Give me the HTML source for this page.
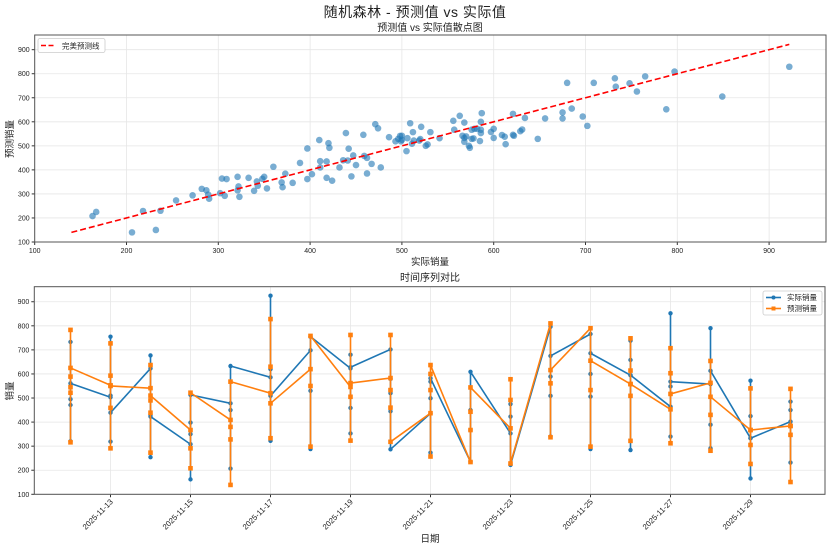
<!DOCTYPE html>
<html><head><meta charset="utf-8"><style>
body{margin:0;background:#fff}
svg text{font-family:"Liberation Sans","Noto Sans CJK SC",sans-serif;fill:#222}
</style></head><body>
<svg id="c" width="831" height="549" xmlns="http://www.w3.org/2000/svg"></svg>
<script>
// ---- scatter data ----
const scatterActual=[163,167,206,232,218,237,254,272,282,287,289,290,302,304,309,307,321,322,321,323,333,339,342,343,348,350,353,360,369,370,373,381,389,397,397,402,410,411,411,418,418,420,421,424,432,436,439,441,442,445,447,450,458,459,462,462,467,471,474,477,486,493,496,498,499,
922,849,788,797,765,756,748,732,733,709,680,685,675,675,697,702,656,648,634,631,629,621,622,621,613,612,609,600,600,597,587,586,586,586,585,582,579,578,576,574,573,576,568,568,570,566,568,563,557,556,541,531,528,526,521,520,519,512,513,511,509,506,505,500,500];
const scatterPred=[208,225,140,150,229,230,273,294,321,315,297,280,303,364,362,292,371,331,315,288,367,313,352,334,363,371,323,413,348,328,384,346,429,362,489,382,524,436,410,435,367,511,492,355,410,440,553,439,488,373,460,420,546,458,450,385,425,590,573,410,536,519,529,541,519,
829,705,652,809,789,726,760,781,746,762,762,655,639,614,622,583,614,529,616,568,561,633,542,546,507,538,545,571,533,558,636,600,567,553,520,571,571,531,529,492,500,567,517,533,539,542,597,625,567,604,532,557,506,500,579,528,522,557,522,509,594,532,478,542,525];
const perfectLine=[140,922];
const topXTicks=[100,200,300,400,500,600,700,800,900];
const topYTicks=[100,200,300,400,500,600,700,800,900];
// ---- time series data ----
const dates=['2025-11-12','2025-11-13','2025-11-14','2025-11-15','2025-11-16','2025-11-17','2025-11-18','2025-11-19','2025-11-20','2025-11-21','2025-11-22','2025-11-23','2025-11-24','2025-11-25','2025-11-26','2025-11-27','2025-11-28','2025-11-29','2025-11-30'];
const actualByDate=[[733,495,471,320,561],[503,755,510,319,439],[623,677,430,254,423],[308,162,398,350,513],[478,207,450,633],[586,925,620,322,509],[698,530,288,755],[623,680,353,459,628],[702,580,445,520,287],[436,499,273,568,582],[235,450,367,609],[353,475,423,222],[796,589,509,340,675],[766,288,506,600,686],[595,738,658,284,595],[464,852,340,548,568],[558,790,291,389,613],[333,572,425,166,333],[402,485,450,232]];
const predByDate=[[783,589,545,522,316,625],[553,727,593,459,291,550],[541,637,490,273,439,510],[367,208,291,522],[409,139,328,380,568],[520,828,630,333,478],[620,298,550,758],[546,762,323,505,562],[583,762,533,460,318],[437,600,533,257,637],[234,443,367,544],[374,578,492,228],[810,561,337,616],[790,298,533,655],[558,748,614,322,509,558],[453,707,603,312,517],[563,654,281,430,505],[367,540,226,305,367],[384,538,151,347,384]];
const botYTicks=[100,200,300,400,500,600,700,800,900];
const dateTickIdx=[1,3,5,7,9,11,13,15,17];

const NS='http://www.w3.org/2000/svg';
const svg=document.getElementById('c');
function mk(tag,attrs,parent){const e=document.createElementNS(NS,tag);for(const k in attrs)e.setAttribute(k,attrs[k]);(parent||svg).appendChild(e);return e;}
function txt(s,attrs,parent){const e=mk('text',attrs,parent);e.textContent=s;return e;}

const T={l:34.7,r:826,t:35,b:242};
const tx=v=>T.l+(v-100)*0.918, ty=v=>T.b-(v-100)*0.2404;
const B={l:34.3,r:825,t:286.7,b:494.3};
const bx=i=>70.5+i*40, by=v=>B.b-(v-100)*0.2407;

let e=txt('随机森林 - 预测值 vs 实际值',{x:415,y:17,'text-anchor':'middle','font-size':14,'letter-spacing':0.5});

e=txt('预测值 vs 实际值散点图',{x:430,y:31,'text-anchor':'middle','font-size':10});


const gTop=mk('g',{});

topXTicks.forEach(v=>{const x=tx(v);
 e=mk('line',{x1:x,x2:x,y1:T.t,y2:T.b,stroke:'#e6e6e6','stroke-width':0.8},gTop);
 mk('line',{x1:x,x2:x,y1:T.b,y2:T.b+3,stroke:'#333'},gTop);
 e=txt(v,{x:x,y:T.b+11,'text-anchor':'middle','font-size':7},gTop);});
topYTicks.forEach(v=>{const y=ty(v);
 e=mk('line',{x1:T.l,x2:T.r,y1:y,y2:y,stroke:'#e6e6e6','stroke-width':0.8},gTop);
 mk('line',{x1:T.l-3,x2:T.l,y1:y,y2:y,stroke:'#333'},gTop);
 e=txt(v,{x:T.l-5,y:y+2.5,'text-anchor':'end','font-size':7},gTop);});
scatterActual.forEach((a,i)=>{
 e=mk('circle',{cx:tx(a),cy:ty(scatterPred[i]),r:3.3,fill:'#1f77b4','fill-opacity':0.6},gTop);
 });
e=mk('line',{x1:tx(perfectLine[0]),y1:ty(perfectLine[0]),x2:tx(perfectLine[1]),y2:ty(perfectLine[1]),stroke:'#f00','stroke-width':1.6,'stroke-dasharray':'6,3'},gTop);

e=mk('rect',{x:T.l,y:T.t,width:T.r-T.l,height:T.b-T.t,fill:'none',stroke:'#555','stroke-width':1},gTop);

const lg1=mk('g',{},gTop);
mk('rect',{x:38,y:38.5,width:67,height:14,fill:'#fff',stroke:'#ccc','stroke-width':0.8,rx:2},lg1);
mk('line',{x1:41,x2:56,y1:45.5,y2:45.5,stroke:'#f00','stroke-width':1.6,'stroke-dasharray':'5,2.5'},lg1);
e=txt('完美预测线',{x:62,y:48.5,'font-size':7.5},lg1);
e=txt('实际销量',{x:430,y:265,'text-anchor':'middle','font-size':9.5},gTop);
e=txt('预测销量',{x:0,y:0,'text-anchor':'middle','font-size':9.5,transform:'translate(13,139) rotate(-90)'},gTop);

const gB=mk('g',{});
e=txt('时间序列对比',{x:430,y:281,'text-anchor':'middle','font-size':10},gB);
dateTickIdx.forEach(i=>{const x=bx(i);
 e=mk('line',{x1:x,x2:x,y1:B.t,y2:B.b,stroke:'#e6e6e6','stroke-width':0.8},gB);
 mk('line',{x1:x,x2:x,y1:B.b,y2:B.b+3,stroke:'#333'},gB);
 e=txt(dates[i],{x:0,y:0,'text-anchor':'end','font-size':7.8,transform:`translate(${x+3},${B.b+8}) rotate(-45)`},gB);});
botYTicks.forEach(v=>{const y=by(v);
 e=mk('line',{x1:B.l,x2:B.r,y1:y,y2:y,stroke:'#e6e6e6','stroke-width':0.8},gB);
 mk('line',{x1:B.l-3,x2:B.l,y1:y,y2:y,stroke:'#333'},gB);
 e=txt(v,{x:B.l-5,y:y+2.5,'text-anchor':'end','font-size':7},gB);});
function series(data,color,sq,name){
 const pts=[];data.forEach((arr,i)=>arr.forEach(v=>pts.push([bx(i),by(v)])));
 const p=mk('polyline',{points:pts.map(q=>q.join(',')).join(' '),fill:'none',stroke:color,'stroke-width':1.6,'stroke-linejoin':'round'},gB);
 
 pts.forEach(q=>{let m;
  if(sq){m=mk('rect',{x:q[0]-2.3,y:q[1]-2.3,width:4.6,height:4.6,fill:color},gB);}
  else{m=mk('circle',{cx:q[0],cy:q[1],r:2.2,fill:color},gB);}
  });
}
series(actualByDate,'#1f77b4',false,'actual-sales');
series(predByDate,'#ff7f0e',true,'predicted-sales');
e=mk('rect',{x:B.l,y:B.t,width:B.r-B.l,height:B.b-B.t,fill:'none',stroke:'#555','stroke-width':1},gB);

const lg2=mk('g',{},gB);
mk('rect',{x:763,y:291,width:59,height:24,fill:'#fff',stroke:'#ccc','stroke-width':0.8,rx:2},lg2);
mk('line',{x1:766,x2:781,y1:297.5,y2:297.5,stroke:'#1f77b4','stroke-width':1.6},lg2);
mk('circle',{cx:773.5,cy:297.5,r:2,fill:'#1f77b4'},lg2);
e=txt('实际销量',{x:787,y:300,'font-size':7.5},lg2);
mk('line',{x1:766,x2:781,y1:308.5,y2:308.5,stroke:'#ff7f0e','stroke-width':1.6},lg2);
mk('rect',{x:771.5,y:306.5,width:4,height:4,fill:'#ff7f0e'},lg2);
e=txt('预测销量',{x:787,y:311,'font-size':7.5},lg2);
e=txt('日期',{x:430,y:542,'text-anchor':'middle','font-size':9.5},gB);
e=txt('销量',{x:0,y:0,'text-anchor':'middle','font-size':9.5,transform:'translate(13,391) rotate(-90)'},gB);
</script>
</body></html>
